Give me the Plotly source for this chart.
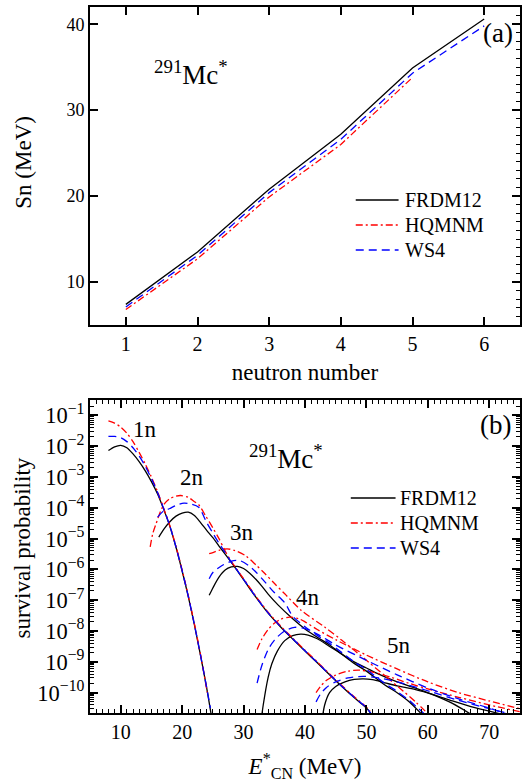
import numpy as np
import plotly.graph_objects as go

FONT = "Liberation Serif"

# ---------------- panel (a) data ----------------
neutron_number = [1, 2, 3, 4, 5, 6]
sn_frdm12 = [7.4, 13.5, 20.8, 27.2, 34.9, 40.6]
sn_hqmnm = [6.8, 12.7, 19.9, 26.0, 33.8]
sn_ws4 = [7.1, 13.1, 20.4, 26.6, 34.3, 39.8]

# ---------------- panel (b) data (E*, log10 survival probability) ----------------
# 1n
e_1n_frdm = [8, 9, 10, 11, 12, 13, 14, 15, 16, 17, 18, 19, 20, 21, 22, 23, 24, 24.8]
lg_1n_frdm = [-2.14, -2.02, -1.97, -2.05, -2.25, -2.5, -2.8, -3.15, -3.55, -4.05, -4.6, -5.28, -6.05, -6.88, -7.8, -8.8, -9.85, -10.8]
e_1n_hqmnm = [8, 9, 10, 11, 12, 13, 14, 15, 16, 17, 18, 19, 20, 21, 22, 23, 24.1]
lg_1n_hqmnm = [-1.18, -1.25, -1.38, -1.58, -1.85, -2.2, -2.58, -3.0, -3.48, -4.02, -4.58, -5.25, -6.02, -6.85, -7.77, -8.77, -10.0]
e_1n_ws4 = [8, 9, 10, 11, 12, 13, 14, 15, 16, 17, 18, 19, 20, 21, 22, 23, 24, 24.6]
lg_1n_ws4 = [-1.68, -1.68, -1.72, -1.85, -2.05, -2.32, -2.65, -3.05, -3.5, -4.03, -4.59, -5.27, -6.04, -6.87, -7.79, -8.79, -9.84, -10.5]
# 2n
e_2n_frdm = [16.2, 17, 18, 19, 20, 21, 22, 23, 24, 25, 26, 27, 28, 29, 30, 31, 32, 34, 36, 38, 40, 42, 44, 46, 48, 50, 51]
lg_2n_frdm = [-4.95, -4.7, -4.45, -4.27, -4.17, -4.14, -4.25, -4.48, -4.73, -4.97, -5.24, -5.5, -5.77, -6.05, -6.33, -6.62, -6.9, -7.42, -7.86, -8.26, -8.65, -9.03, -9.42, -9.8, -10.16, -10.5, -10.75]
e_2n_hqmnm = [14.8, 15.2, 15.75, 16.5, 17.1, 18, 19, 19.8, 21, 22, 22.7, 23.8, 25, 26, 27, 28, 29, 30, 32, 34, 36, 38, 40, 42, 44, 46, 48, 50, 50.6]
lg_2n_hqmnm = [-5.27, -4.85, -4.52, -4.1, -3.87, -3.7, -3.62, -3.6, -3.66, -3.8, -3.9, -4.25, -4.65, -5.0, -5.4, -5.74, -6.02, -6.3, -6.87, -7.39, -7.83, -8.23, -8.62, -9.0, -9.39, -9.77, -10.13, -10.47, -10.6]
e_2n_ws4 = [16.0, 17, 17.9, 19, 20.3, 21.5, 22.7, 24, 25, 26, 27, 28, 29, 30, 32, 34, 36, 38, 40, 42, 44, 46, 48, 50, 50.8]
lg_2n_ws4 = [-4.3, -4.1, -4.03, -3.92, -3.85, -3.88, -3.98, -4.48, -4.82, -5.15, -5.45, -5.76, -6.04, -6.32, -6.89, -7.41, -7.85, -8.25, -8.64, -9.02, -9.41, -9.79, -10.15, -10.49, -10.7]
# 3n
e_3n_frdm = [24.4, 25, 26, 27, 28, 29, 30, 31, 32, 33, 34, 35.6, 38, 40, 42, 44, 46, 48, 50, 53, 55, 57, 59]
lg_3n_frdm = [-6.84, -6.6, -6.25, -6.02, -5.92, -5.9, -5.97, -6.12, -6.32, -6.55, -6.8, -7.15, -7.6, -7.93, -8.2, -8.45, -8.75, -9.05, -9.3, -9.75, -10.0, -10.3, -10.7]
e_3n_hqmnm = [24.4, 25, 26, 27.3, 28.5, 30.3, 32, 33.5, 35, 36.7, 39.4, 43.2, 46, 50, 53, 56, 58, 60.2]
lg_3n_hqmnm = [-5.49, -5.45, -5.38, -5.33, -5.38, -5.55, -5.85, -6.14, -6.45, -6.79, -7.33, -7.87, -8.3, -8.95, -9.45, -9.95, -10.3, -10.72]
e_3n_ws4 = [24.4, 25, 26.5, 28.4, 29.5, 30.8, 32, 33.5, 35, 36.7, 38, 40, 42, 44, 46, 48, 50, 53, 55, 57, 59.6]
lg_3n_ws4 = [-6.3, -6.1, -5.87, -5.71, -5.72, -5.87, -6.08, -6.41, -6.75, -7.08, -7.52, -7.86, -8.14, -8.4, -8.7, -9.0, -9.25, -9.7, -9.96, -10.26, -10.72]
# 4n
e_4n_frdm = [32.8, 33.2, 34, 34.6, 35.5, 36.7, 38, 39.3, 40.5, 42, 44, 46, 48, 50, 52, 55, 58, 61, 64, 67]
lg_4n_frdm = [-11.0, -10.4, -9.5, -9.06, -8.65, -8.31, -8.15, -8.1, -8.13, -8.25, -8.5, -8.75, -9.0, -9.2, -9.4, -9.65, -9.85, -10.08, -10.35, -10.7]
e_4n_hqmnm = [32.2, 33, 34, 35, 36, 37.5, 39, 40, 42, 45, 50, 55, 60, 65, 70, 75]
lg_4n_hqmnm = [-8.6, -8.25, -7.95, -7.75, -7.62, -7.55, -7.6, -7.7, -7.95, -8.28, -8.78, -9.23, -9.65, -10.0, -10.27, -10.52]
e_4n_ws4 = [32.2, 33, 34, 35, 36.5, 38.3, 40, 42, 45, 50, 55, 60, 65, 70, 73]
lg_4n_ws4 = [-9.69, -9.1, -8.6, -8.3, -8.02, -7.88, -7.92, -8.1, -8.45, -8.95, -9.42, -9.85, -10.2, -10.5, -10.7]
# 5n
e_5n_frdm = [42.7, 43.2, 44, 45, 46.5, 48, 49.5, 51, 53, 55, 58, 61, 64, 67, 70, 73]
lg_5n_frdm = [-11.0, -10.4, -10.0, -9.8, -9.65, -9.57, -9.55, -9.58, -9.68, -9.78, -9.9, -10.07, -10.27, -10.45, -10.6, -10.75]
e_5n_hqmnm = [41.8, 42.5, 43.5, 45, 47, 48.8, 51, 54, 57, 60, 65, 70, 75]
lg_5n_hqmnm = [-10.0, -9.8, -9.6, -9.43, -9.3, -9.27, -9.33, -9.5, -9.7, -9.88, -10.15, -10.4, -10.62]
e_5n_ws4 = [41.8, 42.5, 43.5, 45, 47, 49.6, 52, 55, 58, 61, 65, 70, 74]
lg_5n_ws4 = [-10.3, -10.05, -9.83, -9.65, -9.52, -9.47, -9.52, -9.65, -9.82, -10.0, -10.25, -10.52, -10.72]

channel_labels = ["1n", "2n", "3n", "4n", "5n"]
label_e = [14.0, 21.6, 29.7, 40.5, 55.3]
label_lg = [-1.45, -3.01, -4.8, -6.9, -8.47]

models = ["FRDM12", "HQMNM", "WS4"]
colors = {"FRDM12": "black", "HQMNM": "red", "WS4": "blue"}
dashes = {"FRDM12": "solid", "HQMNM": "7px,3px,2px,3px", "WS4": "8px,5px"}

fig = go.Figure()

# panel (a)
for m, yv in zip(models, [sn_frdm12, sn_hqmnm, sn_ws4]):
    fig.add_trace(go.Scatter(
        x=neutron_number[:len(yv)], y=yv, mode="lines", name=m, showlegend=False,
        line=dict(color=colors[m], width=1.3, dash=dashes[m]),
        xaxis="x", yaxis="y"))
# empty trace so the right-side minor tick axis is drawn
fig.add_trace(go.Scatter(x=[], y=[], xaxis="x", yaxis="y3", showlegend=False))

# panel (b)
curves = {
    "FRDM12": [(e_1n_frdm, lg_1n_frdm), (e_2n_frdm, lg_2n_frdm), (e_3n_frdm, lg_3n_frdm),
               (e_4n_frdm, lg_4n_frdm), (e_5n_frdm, lg_5n_frdm)],
    "HQMNM": [(e_1n_hqmnm, lg_1n_hqmnm), (e_2n_hqmnm, lg_2n_hqmnm), (e_3n_hqmnm, lg_3n_hqmnm),
              (e_4n_hqmnm, lg_4n_hqmnm), (e_5n_hqmnm, lg_5n_hqmnm)],
    "WS4": [(e_1n_ws4, lg_1n_ws4), (e_2n_ws4, lg_2n_ws4), (e_3n_ws4, lg_3n_ws4),
            (e_4n_ws4, lg_4n_ws4), (e_5n_ws4, lg_5n_ws4)],
}
for m in models:
    for ex, lg in curves[m]:
        fig.add_trace(go.Scatter(
            x=ex, y=10.0 ** np.array(lg), mode="lines", name=m, showlegend=False,
            line=dict(color=colors[m], width=1.3, dash=dashes[m], shape="spline", smoothing=0.8),
            xaxis="x2", yaxis="y2"))

axis_common = dict(showline=True, linecolor="black", linewidth=2, ticks="inside",
                   tickcolor="black", tickwidth=1.5, ticklen=8, showgrid=False, zeroline=False)
xfont = dict(family=FONT, size=20, color="black")
yfont = dict(family=FONT, size=18, color="black")

fig.update_layout(
    width=527, height=783,
    margin=dict(l=90, r=5, t=7, b=70),
    paper_bgcolor="white", plot_bgcolor="white",
    font=dict(family=FONT, color="black"),
    showlegend=False,
    xaxis=dict(domain=[0, 1], anchor="y", range=[0.5, 6.5], dtick=1, tick0=0, mirror="ticks",
               tickfont=xfont,
               title=dict(text="neutron number", font=dict(family=FONT, size=23), standoff=10),
               **axis_common),
    yaxis=dict(domain=[0.5496, 1.0], anchor="x", range=[5, 42], dtick=10, tick0=0, mirror="ticks",
               tickfont=yfont, **axis_common),
    yaxis3=dict(overlaying="y", side="right", anchor="x", range=[5, 42], dtick=10, tick0=0,
                showticklabels=False, showline=False, ticks="inside", ticklen=8, tickwidth=1.5,
                tickcolor="black", showgrid=False, zeroline=False,
                minor=dict(ticks="inside", dtick=1, ticklen=4, tickwidth=1, tickcolor="black")),
    xaxis2=dict(domain=[0, 1], anchor="y2", range=[5, 75], dtick=10, tick0=0, mirror="allticks",
                tickfont=xfont,
                minor=dict(ticks="inside", dtick=1, ticklen=4, tickwidth=1, tickcolor="black"),
                title=dict(text="<i>E</i><sup>*</sup><sub>CN</sub> (MeV)",
                           font=dict(family=FONT, size=23), standoff=16),
                **axis_common),
    yaxis2=dict(domain=[0, 0.4433], anchor="x2", type="log", range=[-10.66, -0.5], dtick=1,
                exponentformat="power", mirror="allticks", tickfont=yfont,
                minor=dict(ticks="inside", ticklen=4, tickwidth=1, tickcolor="black", dtick="D1"),
                **axis_common),
)

def note(text, x, y, size, angle=0):
    return dict(text=text, x=x, y=y, xref="paper", yref="paper", xanchor="center",
                yanchor="middle", textangle=angle, showarrow=False,
                font=dict(family=FONT, size=size, color="black"))

annotations = [
    note("Sn (MeV)", -0.155, 0.780, 23, -90),
    note("survival probability", -0.157, 0.2337, 23, -90),
    note("<sup>291</sup>Mc<sup>*</sup>", 0.236, 0.906, 27),
    note("(a)", 0.949, 0.963, 27),
    note("(b)", 0.942, 0.408, 27),
    note("<sup>291</sup>Mc<sup>*</sup>", 0.456, 0.363, 27),
]
for lab, ex, lg in zip(channel_labels, label_e, label_lg):
    annotations.append(dict(text=lab, x=ex, y=lg, xref="x2", yref="y2", showarrow=False,
                            xanchor="center", yanchor="middle",
                            font=dict(family=FONT, size=23, color="black")))

# hand-drawn legends (line sample + text) for both panels
shapes = []
legend_boxes = [
    # (x0, x1, text_x, [row y positions])  in paper coordinates
    (0.618, 0.7176, 0.727, [0.7266, 0.6912, 0.6558]),
    (0.6065, 0.7106, 0.716, [0.3045, 0.2691, 0.2337]),
]
for x0, x1, tx, ys in legend_boxes:
    for m, yy in zip(models, ys):
        shapes.append(dict(type="line", xref="paper", yref="paper", x0=x0, x1=x1, y0=yy, y1=yy,
                           line=dict(color=colors[m], width=1.5, dash=dashes[m])))
        annotations.append(dict(text=m, x=tx, y=yy, xref="paper", yref="paper", xanchor="left",
                                yanchor="middle", showarrow=False,
                                font=dict(family=FONT, size=20, color="black")))
fig.update_layout(annotations=annotations, shapes=shapes)

fig.write_html("out.html", config={"displayModeBar": False},
               post_script="document.body.style.margin='0';")
